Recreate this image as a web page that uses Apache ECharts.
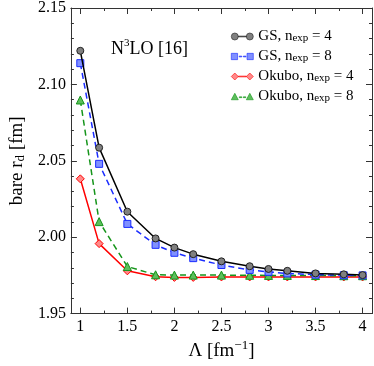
<!DOCTYPE html>
<html>
<head>
<meta charset="utf-8">
<script src="https://cdn.jsdelivr.net/npm/echarts@6/dist/echarts.min.js"></script>
<style>
  html, body { margin: 0; padding: 0; background: #fff; }
  #chart { width: 374px; height: 366px; }
</style>
</head>
<body>
<div id="chart"></div>
<script>
// cutoff values (fm^-1)
const lambdaVals = [1, 1.2, 1.5, 1.8, 2, 2.2, 2.5, 2.8, 3, 3.2, 3.5, 3.8, 4];
const gsN4 = [2.122, 2.0586, 2.0167, 1.9992, 1.9932, 1.9889, 1.9842, 1.981, 1.9792, 1.978, 1.9763, 1.9757, 1.9752];
const gsN8 = [2.1139, 2.048, 2.0087, 1.995, 1.9898, 1.9863, 1.9818, 1.9786, 1.9773, 1.9763, 1.9755, 1.9751, 1.975];
const okuboN4 = [2.0382, 1.9958, 1.978, 1.9741, 1.9737, 1.9737, 1.974, 1.974, 1.974, 1.974, 1.974, 1.974, 1.974];
const okuboN8 = [2.0898, 2.0102, 1.9808, 1.9754, 1.9752, 1.9752, 1.9752, 1.9751, 1.975, 1.975, 1.9749, 1.9748, 1.9748];
const xMajorTicks = [1, 1.5, 2, 2.5, 3, 3.5, 4];
const xMinorTicks = [1.25, 1.75, 2.25, 2.75, 3.25, 3.75];

const FONT = '"Liberation Serif", "DejaVu Serif", serif';

function pairs(ys) {
    return lambdaVals.map(function (x, i) { return [x, ys[i]]; });
}

// legend icons: marker at both ends with line between
const iconCircle = 'path://M0,3.5A3.5,3.5,0,1,0,7,3.5A3.5,3.5,0,1,0,0,3.5ZM15,3.5A3.5,3.5,0,1,0,22,3.5A3.5,3.5,0,1,0,15,3.5ZM7,3.1L15,3.1L15,3.9L7,3.9Z';
const iconSquare = 'path://M0.5,0.5L6.5,0.5L6.5,6.5L0.5,6.5ZM15.5,0.5L21.5,0.5L21.5,6.5L15.5,6.5ZM8,3.1L10.5,3.1L10.5,3.9L8,3.9ZM12,3.1L14.5,3.1L14.5,3.9L12,3.9Z';
const iconDiamond = 'path://M0,3.5L3.5,0L7,3.5L3.5,7ZM15,3.5L18.5,0L22,3.5L18.5,7ZM7,3.1L15,3.1L15,3.9L7,3.9Z';
const iconTriangle = 'path://M0,7L3.5,0.5L7,7ZM15,7L18.5,0.5L22,7ZM8,4.1L10.5,4.1L10.5,4.9L8,4.9ZM12,4.1L14.5,4.1L14.5,4.9L12,4.9Z';

function xAxisDef(pos, ticks, len, labels, line) {
    return {
        type: 'value', position: pos, min: 0.9, max: 4.1,
        axisLine: { show: line, lineStyle: { color: '#333', width: 1 } },
        axisTick: { show: true, inside: true, length: len, customValues: ticks, lineStyle: { color: '#333' } },
        axisLabel: labels ? { show: true, customValues: xMajorTicks, color: '#000', fontFamily: FONT, fontSize: 16, margin: 5 } : { show: false },
        splitLine: { show: false }
    };
}

function initChart() {
    const chart = echarts.init(document.getElementById('chart'));

    const option = {
        animation: false,
        backgroundColor: '#fff',
        title: {
            text: '{n|N}{sup|3}{n|LO [16]}',
            left: 106, top: 33,
            textStyle: {
                fontWeight: 'normal',
                rich: {
                    n: { fontFamily: FONT, fontSize: 18, fontWeight: 'normal', color: '#000' },
                    sup: { fontFamily: FONT, fontSize: 11, fontWeight: 'normal', color: '#000', verticalAlign: 'top', lineHeight: 22 }
                }
            }
        },
        legend: {
            orient: 'vertical',
            left: 226, top: 24,
            itemWidth: 22, itemHeight: 7,
            itemGap: 5,
            itemStyle: { borderWidth: 0.6 },
            textStyle: {
                fontFamily: FONT, fontSize: 15, color: '#000',
                rich: {
                    s: { fontFamily: FONT, fontSize: 11, color: '#000', verticalAlign: 'bottom', lineHeight: 10 }
                }
            },
            data: [
                { name: 'GS4', icon: iconCircle },
                { name: 'GS8', icon: iconSquare },
                { name: 'OK4', icon: iconDiamond },
                { name: 'OK8', icon: iconTriangle }
            ],
            formatter: function (name) {
                const labels = {
                    GS4: 'GS, n{s|exp} = 4',
                    GS8: 'GS, n{s|exp} = 8',
                    OK4: 'Okubo, n{s|exp} = 4',
                    OK8: 'Okubo, n{s|exp} = 8'
                };
                return labels[name];
            }
        },
        grid: { left: 63, right: 2, top: 6, bottom: 50 },
        xAxis: [
            Object.assign(xAxisDef('bottom', xMajorTicks, 6, true, true), {
                name: '{n|Λ [fm}{sup|−1}{n|]}',
                nameLocation: 'middle', nameGap: 25,
                nameTextStyle: {
                    rich: {
                        n: { fontFamily: FONT, fontSize: 19, color: '#000' },
                        sup: { fontFamily: FONT, fontSize: 13, color: '#000', verticalAlign: 'top', lineHeight: 24 }
                    }
                }
            }),
            xAxisDef('bottom', xMinorTicks, 3, false, false),
            xAxisDef('top', xMajorTicks, 6, false, true),
            xAxisDef('top', xMinorTicks, 3, false, false)
        ],
        yAxis: [
            {
                type: 'value', position: 'left', min: 1.95, max: 2.15, interval: 0.05,
                name: '{n|bare r}{s|d}{n| [fm]}',
                nameLocation: 'middle', nameGap: 40, nameRotate: 90,
                nameTextStyle: {
                    rich: {
                        n: { fontFamily: FONT, fontSize: 19, color: '#000' },
                        s: { fontFamily: FONT, fontSize: 13, color: '#000', verticalAlign: 'bottom', lineHeight: 12 }
                    }
                },
                axisLine: { show: true, lineStyle: { color: '#333' } },
                axisTick: { inside: true, length: 6, lineStyle: { color: '#333' } },
                minorTick: { show: true, splitNumber: 5, length: 3, lineStyle: { color: '#333' } },
                axisLabel: { color: '#000', fontFamily: FONT, fontSize: 16, margin: 5,
                    formatter: function (v) { return v.toFixed(2); } },
                splitLine: { show: false }
            },
            {
                type: 'value', position: 'right', min: 1.95, max: 2.15, interval: 0.05,
                axisLine: { show: true, lineStyle: { color: '#333' } },
                axisTick: { inside: true, length: 6, lineStyle: { color: '#333' } },
                minorTick: { show: true, splitNumber: 5, length: 3, lineStyle: { color: '#333' } },
                axisLabel: { show: false },
                splitLine: { show: false }
            }
        ],
        series: [
            {
                name: 'OK4', type: 'line', data: pairs(okuboN4),
                symbol: 'diamond', symbolSize: 8,
                lineStyle: { color: '#ff0000', width: 1.5 },
                itemStyle: { color: '#ff8a8a', borderColor: '#ff0000', borderWidth: 1 },
                z: 2
            },
            {
                name: 'OK8', type: 'line', data: pairs(okuboN8),
                symbol: 'triangle', symbolSize: 8,
                lineStyle: { color: '#16951b', width: 1.5, type: [6, 4] },
                itemStyle: { color: '#5cbf5c', borderColor: '#16951b', borderWidth: 1 },
                z: 3
            },
            {
                name: 'GS8', type: 'line', data: pairs(gsN8),
                symbol: 'rect', symbolSize: 7,
                lineStyle: { color: '#1a2cff', width: 1.5, type: [6, 4] },
                itemStyle: { color: '#8090ff', borderColor: '#1a2cff', borderWidth: 1 },
                z: 4
            },
            {
                name: 'GS4', type: 'line', data: pairs(gsN4),
                symbol: 'circle', symbolSize: 7,
                lineStyle: { color: '#000', width: 1.5 },
                itemStyle: { color: '#808080', borderColor: '#222', borderWidth: 1 },
                z: 5
            }
        ]
    };

    chart.setOption(option);
}

window.onload = function () {
    initChart();
};
</script>
</body>
</html>
